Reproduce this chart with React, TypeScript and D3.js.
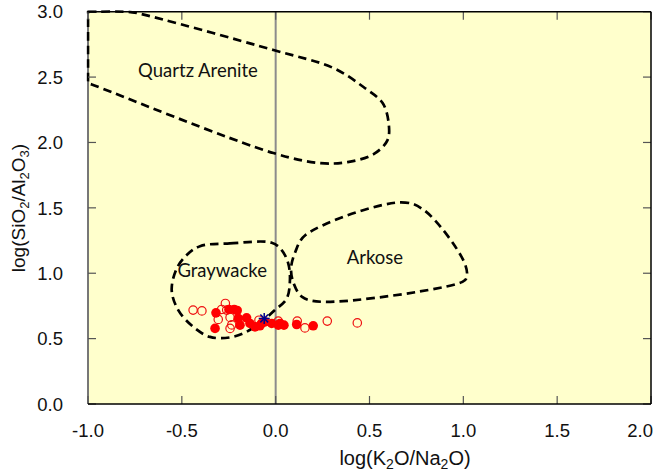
import React from "react";
import * as d3 from "d3";

const xTicks = [-1.0, -0.5, 0.0, 0.5, 1.0, 1.5, 2.0];
const yTicks = [0.0, 0.5, 1.0, 1.5, 2.0, 2.5, 3.0];

const quartzArenite: [number, number][] = [
  [-1.0, 2.99], [-1.0, 3.0], [-0.99, 3.0], [-0.79, 3.0], [-0.74, 2.99], [-0.012, 2.707], [0.308, 2.569], [0.468, 2.424],
  [0.57, 2.301], [0.602, 2.148], [0.596, 2.018], [0.522, 1.911], [0.383, 1.85],
  [0.239, 1.842], [-0.012, 1.919], [-0.98, 2.444], [-1.0, 2.454], [-1.0, 2.47],
];
const graywacke: [number, number][] = [
  [-0.403, 1.207], [-0.2435, 1.228], [-0.021, 1.233], [0.032, 1.177], [0.067, 1.075],
  [0.076, 0.947], [0.059, 0.807], [-0.004, 0.718], [-0.066, 0.641], [-0.155, 0.552],
  [-0.2435, 0.509], [-0.35, 0.513], [-0.439, 0.59], [-0.519, 0.718], [-0.554, 0.871],
  [-0.527, 1.037], [-0.474, 1.139],
];
const arkose: [number, number][] = [
  [0.159, 1.292], [0.666, 1.542], [0.79, 1.483], [1.004, 1.087], [1.018, 0.968],
  [0.995, 0.934], [0.256, 0.781], [0.141, 0.819], [0.096, 0.922], [0.082, 1.037],
  [0.105, 1.164],
];

const openX = [-0.44, -0.393, -0.268, -0.288, -0.261, -0.306, -0.243, -0.234, -0.243, -0.089, 0.014, 0.115, 0.156, 0.275, 0.435];
const openY = [0.718, 0.712, 0.769, 0.723, 0.718, 0.647, 0.662, 0.605, 0.578, 0.641, 0.634, 0.634, 0.582, 0.634, 0.62];

const filledX = [-0.318, -0.323, -0.249, -0.221, -0.205, -0.199, -0.155, -0.19, -0.137, -0.11, -0.084, -0.075, -0.057, -0.021, 0.014, 0.023, 0.044, 0.112, 0.2];
const filledY = [0.697, 0.578, 0.723, 0.723, 0.715, 0.654, 0.659, 0.603, 0.616, 0.59, 0.598, 0.616, 0.628, 0.616, 0.603, 0.616, 0.603, 0.608, 0.598];

const starPoint: [number, number] = [-0.061, 0.654];

const regionLabels = [
  { text: "Quartz Arenite", x: -0.414, y: 2.554 },
  { text: "Graywacke", x: -0.285, y: 1.024 },
  { text: "Arkose", x: 0.529, y: 1.123 },
];

const W = 658;
const H = 471;
const left = 88;
const right = 651;
const top = 11.7;
const bottom = 404;

export default function App() {
  const x = d3.scaleLinear().domain([-1, 2]).range([left, right]);
  const y = d3.scaleLinear().domain([0, 3]).range([bottom, top]);
  const line = d3
    .line<[number, number]>()
    .x((d) => x(d[0]))
    .y((d) => y(d[1]))
    .curve(d3.curveCatmullRomClosed.alpha(0.5));
  const font = "'Liberation Sans', Arial, sans-serif";
  const labelFont = "Lato, 'Open Sans', sans-serif";
  const tickLen = 8;
  const star = x(starPoint[0]);
  const stary = y(starPoint[1]);
  const lastX = xTicks.length - 1;
  return (
    <svg width={W} height={H} style={{ position: "absolute", left: 0, top: 0 }}>
      <rect x={0} y={0} width={W} height={H} fill="#ffffff" />
      <defs>
        <clipPath id="plotclip">
          <rect x={left - 1.5} y={top - 1.5} width={right - left + 3} height={bottom - top + 3} />
        </clipPath>
      </defs>
      <rect x={left} y={top} width={right - left} height={bottom - top} fill="#ffffcc" />
      <line x1={x(0)} x2={x(0)} y1={top} y2={bottom} stroke="#8c8c8c" strokeWidth={2} />
      <line x1={left} x2={left} y1={top} y2={bottom} stroke="#777" strokeWidth={2} />
      <g clipPath="url(#plotclip)">
        {[quartzArenite, graywacke, arkose].map((poly, i) => (
          <path
            key={i}
            d={line(poly) || ""}
            fill="none"
            stroke="#000"
            strokeWidth={2.7}
            strokeDasharray="8.5,5"
          />
        ))}
      </g>
      {regionLabels.map((l) => (
        <text
          key={l.text}
          x={x(l.x)}
          y={y(l.y)}
          textAnchor="middle"
          dominantBaseline="central"
          fontFamily={labelFont}
          fontSize={18.5}
          fill="#111"
        >
          {l.text}
        </text>
      ))}
      {openX.map((v, i) => (
        <circle key={"o" + i} cx={x(v)} cy={y(openY[i])} r={4.2} fill="none" stroke="#ee1111" strokeWidth={1.2} />
      ))}
      {filledX.map((v, i) => (
        <circle key={"f" + i} cx={x(v)} cy={y(filledY[i])} r={4.8} fill="#ff0000" />
      ))}
      <g stroke="#00008b" strokeWidth={1.5}>
        {[0, 45, 90, 135].map((a) => {
          const rad = (a * Math.PI) / 180;
          const L = 5.5;
          return (
            <line
              key={a}
              x1={star - L * Math.cos(rad)}
              y1={stary - L * Math.sin(rad)}
              x2={star + L * Math.cos(rad)}
              y2={stary + L * Math.sin(rad)}
            />
          );
        })}
      </g>
      <g stroke="#555" strokeWidth={1.2}>
        {xTicks.map((t) => (
          <g key={"xt" + t}>
            <line x1={x(t)} x2={x(t)} y1={bottom} y2={bottom - tickLen} />
            <line x1={x(t)} x2={x(t)} y1={top} y2={top + tickLen} />
          </g>
        ))}
        {yTicks.map((t) => (
          <g key={"yt" + t}>
            <line x1={left} x2={left + tickLen} y1={y(t)} y2={y(t)} />
            <line x1={right} x2={right - tickLen} y1={y(t)} y2={y(t)} />
          </g>
        ))}
      </g>
      <line x1={left} x2={right} y1={top} y2={top} stroke="#000" strokeWidth={1.5} />
      <line x1={left} x2={right} y1={bottom} y2={bottom} stroke="#000" strokeWidth={1.5} />
      <line x1={right} x2={right} y1={top} y2={bottom} stroke="#000" strokeWidth={1.5} />
      {xTicks.map((t, i) => (
        <text
          key={"xl" + t}
          x={i === lastX ? 653 : x(t)}
          y={437}
          textAnchor={i === lastX ? "end" : "middle"}
          fontFamily={font}
          fontSize={18.5}
          fill="#111"
        >
          {t.toFixed(1)}
        </text>
      ))}
      {yTicks.map((t) => (
        <text key={"yl" + t} x={63} y={y(t)} dy="0.36em" textAnchor="end" fontFamily={font} fontSize={18.5} fill="#111">
          {t.toFixed(1)}
        </text>
      ))}
      <text x={405} y={465} textAnchor="middle" fontFamily={font} fontSize={20} fill="#111">
        log(K<tspan fontSize={14} dy={4}>2</tspan>
        <tspan dy={-4}>O/Na</tspan>
        <tspan fontSize={14} dy={4}>2</tspan>
        <tspan dy={-4}>O)</tspan>
      </text>
      <text
        transform={`translate(25, 208) rotate(-90)`}
        textAnchor="middle"
        fontFamily={font}
        fontSize={19}
        fill="#111"
      >
        log(SiO<tspan fontSize={13} dy={4}>2</tspan>
        <tspan dy={-4}>/Al</tspan>
        <tspan fontSize={13} dy={4}>2</tspan>
        <tspan dy={-4}>O</tspan>
        <tspan fontSize={13} dy={4}>3</tspan>
        <tspan dy={-4}>)</tspan>
      </text>
    </svg>
  );
}
